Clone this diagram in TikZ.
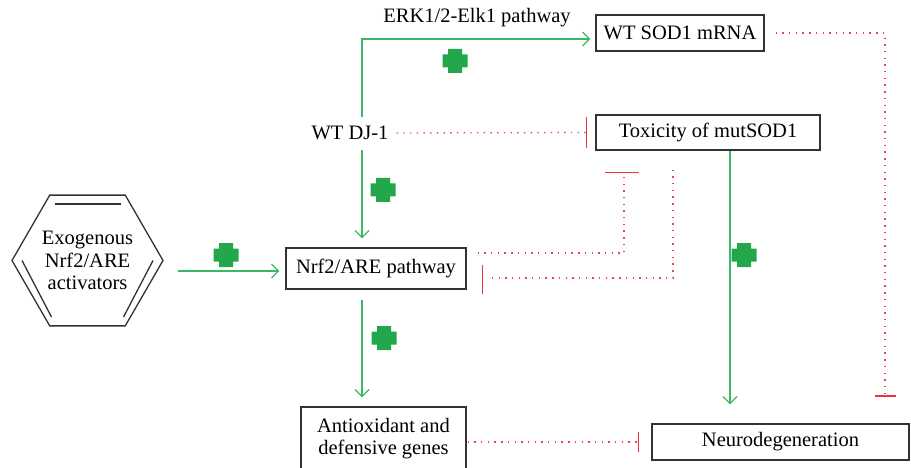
\documentclass[tikz,border=0pt]{standalone}
\usepackage{fontspec}
\setmainfont{Liberation Serif}
\usetikzlibrary{arrows.meta,calc}
\definecolor{gline}{HTML}{3DB862}
\definecolor{gplus}{HTML}{22A84B}
\definecolor{rdot}{HTML}{E8474C}
\definecolor{rbar}{HTML}{E8333A}
\definecolor{boxc}{HTML}{333333}
\tikzset{
  txt/.style={font=\fontsize{20.5}{22.5}\selectfont, inner sep=0pt, align=center},
  boxn/.style={txt, draw=boxc, line width=1.3pt},
  act/.style={color=gline, line width=1.2pt, -{Straight Barb[length=7pt,width=14pt,line width=1.2pt]}},
  inh/.style={color=rdot, line width=1.3pt, dash pattern=on 1.4pt off 5.3pt},
  bar/.style={draw=rbar, line width=1.6pt},
  plussign/.pic={\fill[gplus] (-7,-12) -- (7,-12) -- (7,-6.5) -- (12.5,-6.5) -- (12.5,6.5) -- (7,6.5) -- (7,12) -- (-7,12) -- (-7,6.5) -- (-12.5,6.5) -- (-12.5,-6.5) -- (-7,-6.5) -- cycle;}
}
\begin{document}
\begin{tikzpicture}[x=1pt,y=-1pt]
\useasboundingbox (0,0) rectangle (911,468);
% boxes
\node[boxn, minimum width=168pt, minimum height=36pt] (sod) at (680,33) {WT SOD1 mRNA};
\node[boxn, minimum width=224pt, minimum height=35pt] (tox) at (708,132.5) {Toxicity of mutSOD1};
\node[boxn, minimum width=180pt, minimum height=41pt] (nrf) at (376,268.5) {Nrf2/ARE pathway};
\node[boxn, minimum width=165pt, minimum height=63pt] (anti) at (383.5,438.5) {Antioxidant and\\defensive genes};
\node[boxn, minimum width=257pt, minimum height=36pt] (neuro) at (780.5,442) {Neurodegeneration};
\node[txt] (dj) at (350,133) {WT DJ-1};
\node[txt] (erk) at (477,18) {ERK1/2-Elk1 pathway};
% hexagon
\node[txt] (hex) at (87.5,260.5) {Exogenous\\Nrf2/ARE\\activators};
\draw[boxc, line width=1.3pt] (hex.center) ++(0:75.5) -- ++(120:75.5) -- ++(180:75.5) -- ++(240:75.5) -- ++(300:75.5) -- ++(0:75.5) -- cycle;
\draw[boxc, line width=1.3pt] ($(hex.center)+(-33,-56.5)$) -- ($(hex.center)+(33,-56.5)$);
\draw[boxc, line width=1.3pt] ($(hex.center)+(-65.5,0)$) -- ($(hex.center)+(-36,56.5)$);
\draw[boxc, line width=1.3pt] ($(hex.center)+(65.5,0)$) -- ($(hex.center)+(36,56.5)$);
% coordinates
\coordinate (djtop) at (362,117);
\coordinate (djbot) at (362,150);
\coordinate (e1) at ($(tox.west)+(-9,0)$);
\coordinate (e2) at (885,396);
\coordinate (e3) at ($(tox.south)+(-84,22)$);
\coordinate (e4) at ($(nrf.east)+(21,9.5)$);
\coordinate (e5) at ($(neuro.west)+(-13,0)$);
% activation arrows
\draw[act] ($(hex.center)+(90.5,10.5)$) -- ($(nrf.west)+(-6,2.5)$);
\draw[act] (djtop) |- ($(sod.west)+(-5,6)$);
\draw[act] (djbot) -- ($(nrf.north)+(-14,-9)$);
\draw[act] ($(nrf.south)+(-14,10)$) -- ($(anti.north)+(-21.5,-9)$);
\draw[act] ($(tox.south)+(22,0)$) -- ($(neuro.north)+(-50.5,-19)$);
% inhibitions
\draw[inh] ($(dj.east)+(8,0)$) -- (e1);
\draw[bar] ($(e1)+(0,-15.5)$) -- ($(e1)+(0,15.5)$);
\draw[inh] ($(sod.east)+(11,0)$) -| (e2);
\draw[bar] ($(e2)+(-10.5,0)$) -- ($(e2)+(10.5,0)$);
\draw[inh] ($(nrf.east)+(11,-15.5)$) -| (e3);
\draw[bar] ($(e3)+(-19,0)$) -- ($(e3)+(15,0)$);
\draw[inh] ($(tox.south)+(-35,19)$) |- (e4);
\draw[bar] ($(e4)+(-5,-13.5)$) -- ($(e4)+(-5,15.5)$);
\draw[inh] ($(anti.east)+(1,3.5)$) -- (e5);
\draw[bar] ($(e5)+(0,-10)$) -- ($(e5)+(0,10)$);
% plus signs
\pic at (226,255) {plussign};
\pic at (455,61) {plussign};
\pic at (383,190) {plussign};
\pic at (384,338) {plussign};
\pic at (744,255) {plussign};
\end{tikzpicture}
\end{document}
